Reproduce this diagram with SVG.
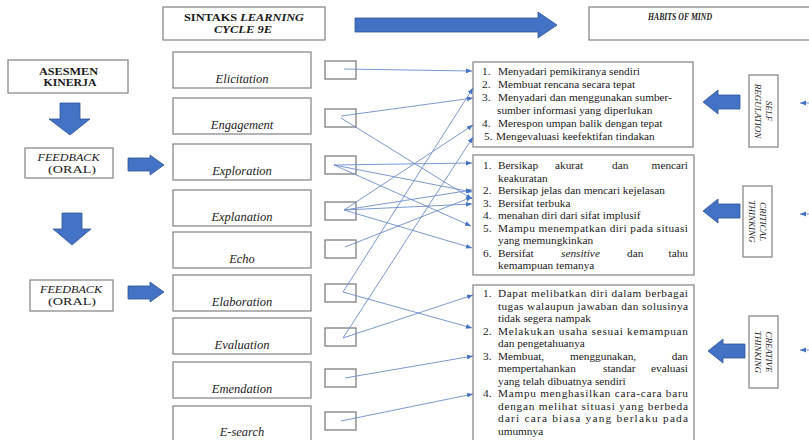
<svg xmlns="http://www.w3.org/2000/svg" width="809" height="440" viewBox="0 0 809 440">
<defs>
<style>
.box{fill:#fff;stroke:#8a8a8a;stroke-width:1.3}
.sbox{fill:#fff;stroke:#7f7f7f;stroke-width:1.3}
.big{fill:#4472C4;stroke:#2F5597;stroke-width:0.8}
.t{font-family:"Liberation Serif","Times New Roman",serif;fill:#1a1a1a}
.ph{font-family:"Liberation Serif","Times New Roman",serif;font-style:italic;font-size:12.5px;fill:#222;text-anchor:middle}
.li{font-family:"Liberation Serif","Times New Roman",serif;font-size:11.3px;fill:#1a1a1a}
.rot{font-family:"Liberation Serif","Times New Roman",serif;font-style:italic;font-size:9px;fill:#222;text-anchor:middle;dominant-baseline:central}
.con{fill:none;stroke:#6d8ccb;stroke-width:0.9;marker-end:url(#ah)}
</style>
<marker id="ah" viewBox="0 0 10 10" refX="10" refY="5" markerWidth="6" markerHeight="6" markerUnits="userSpaceOnUse" orient="auto"><path d="M0,1 L10,5 L0,9 z" fill="#4472C4"/></marker>
</defs>
<rect width="809" height="440" fill="#fff"/>

<!-- header -->
<g id="sintaks">
<rect class="box" x="163" y="7" width="162" height="33"/>
<text class="t" x="244" y="21" font-size="10.5" font-weight="bold" text-anchor="middle" textLength="120" lengthAdjust="spacingAndGlyphs">SINTAKS <tspan font-style="italic">LEARNING</tspan></text>
<text class="t" x="243" y="33" font-size="10.5" font-weight="bold" font-style="italic" text-anchor="middle" textLength="58" lengthAdjust="spacingAndGlyphs">CYCLE 9E</text>
</g>
<g id="arrow-top"><path class="big" d="M355,18 L538,18 L538,12 L557,25 L538,38 L538,32 L355,32 Z"/></g>
<g id="habits">
<rect class="box" x="589" y="7" width="240" height="33"/>
<text class="t" x="680" y="20" font-size="10" font-weight="bold" font-style="italic" text-anchor="middle" textLength="64" lengthAdjust="spacingAndGlyphs">HABITS OF MIND</text>
</g>

<!-- left column -->
<g id="asesmen">
<rect class="box" x="8" y="60" width="120" height="33"/>
<text class="t" x="68.5" y="75" font-size="10.5" font-weight="bold" text-anchor="middle" textLength="59" lengthAdjust="spacingAndGlyphs">ASESMEN</text>
<text class="t" x="70" y="86" font-size="10.5" font-weight="bold" text-anchor="middle" textLength="53" lengthAdjust="spacingAndGlyphs">KINERJA</text>
</g>
<g id="arrow-down-1"><path class="big" d="M60,103 L80,103 L80,119 L90,119 L70,135 L49,119 L60,119 Z"/></g>
<g id="feedback-1">
<rect class="box" x="25" y="148" width="88" height="30"/>
<text class="t" x="68.5" y="161" font-size="10.5" font-style="italic" text-anchor="middle" textLength="62" lengthAdjust="spacingAndGlyphs">FEEDBACK</text>
<text class="t" x="72" y="173" font-size="10.5" text-anchor="middle" textLength="48" lengthAdjust="spacingAndGlyphs">(ORAL)</text>
</g>
<g id="arrow-right-1"><path class="big" d="M128,158 L150,158 L150,155 L164,165 L150,175 L150,171 L128,171 Z"/></g>
<g id="arrow-down-2"><path class="big" d="M62,213 L82,213 L82,229 L91,229 L72,245 L53,229 L62,229 Z"/></g>
<g id="feedback-2">
<rect class="box" x="30" y="280" width="83" height="31"/>
<text class="t" x="71" y="293" font-size="10.5" font-style="italic" text-anchor="middle" textLength="62" lengthAdjust="spacingAndGlyphs">FEEDBACK</text>
<text class="t" x="72" y="305" font-size="10.5" text-anchor="middle" textLength="48" lengthAdjust="spacingAndGlyphs">(ORAL)</text>
</g>
<g id="arrow-right-2"><path class="big" d="M128,286 L150,286 L150,282 L164,292 L150,302 L150,299 L128,299 Z"/></g>

<!-- phases -->
<g id="elicitation"><rect class="box" x="173" y="52" width="138" height="36"/><text class="ph" x="242" y="83">Elicitation</text><rect class="sbox" x="325" y="61" width="31" height="18"/></g>
<g id="engagement"><rect class="box" x="173" y="98" width="138" height="36"/><text class="ph" x="242" y="129">Engagement</text><rect class="sbox" x="325" y="109" width="31" height="18"/></g>
<g id="exploration"><rect class="box" x="173" y="144" width="138" height="36"/><text class="ph" x="242" y="175">Exploration</text><rect class="sbox" x="325" y="156" width="31" height="18"/></g>
<g id="explanation"><rect class="box" x="173" y="190" width="138" height="36"/><text class="ph" x="242" y="221">Explanation</text><rect class="sbox" x="325" y="202" width="31" height="18"/></g>
<g id="echo"><rect class="box" x="173" y="232" width="138" height="36"/><text class="ph" x="242" y="263">Echo</text><rect class="sbox" x="325" y="240" width="31" height="18"/></g>
<g id="elaboration"><rect class="box" x="173" y="275" width="138" height="36"/><text class="ph" x="242" y="306">Elaboration</text><rect class="sbox" x="325" y="284" width="31" height="18"/></g>
<g id="evaluation"><rect class="box" x="173" y="318" width="138" height="36"/><text class="ph" x="242" y="349">Evaluation</text><rect class="sbox" x="325" y="328" width="31" height="18"/></g>
<g id="emendation"><rect class="box" x="173" y="362" width="138" height="36"/><text class="ph" x="242" y="393">Emendation</text><rect class="sbox" x="325" y="369" width="31" height="18"/></g>
<g id="esearch"><rect class="box" x="173" y="406" width="138" height="36"/><text class="ph" x="242" y="436">E-search</text><rect class="sbox" x="325" y="412" width="31" height="18"/></g>

<!-- right lists -->
<g id="list-self">
<rect class="box" x="473" y="62" width="220" height="85"/>
<text class="li" y="75"><tspan x="482">1.</tspan><tspan x="498">Menyadari pemikiranya sendiri</tspan></text>
<text class="li" y="88"><tspan x="482">2.</tspan><tspan x="498">Membuat rencana secara tepat</tspan></text>
<text class="li" y="101"><tspan x="482">3.</tspan><tspan x="498">Menyadari dan menggunakan sumber-</tspan></text>
<text class="li" x="497" y="114">sumber informasi yang diperlukan</text>
<text class="li" y="127"><tspan x="482">4.</tspan><tspan x="498">Merespon umpan balik dengan tepat</tspan></text>
<text class="li" y="140"><tspan x="484">5.</tspan><tspan x="496">Mengevaluasi keefektifan tindakan</tspan></text>
</g>
<g id="list-critical">
<rect class="box" x="473" y="155" width="221" height="120"/>
<text class="li" y="169"><tspan x="483">1.</tspan><tspan x="498">Bersikap</tspan><tspan x="555">akurat</tspan><tspan x="612">dan</tspan></text>
<text class="li" x="688" y="169" text-anchor="end">mencari</text>
<text class="li" x="498" y="181.5">keakuratan</text>
<text class="li" y="194"><tspan x="483">2.</tspan><tspan x="498">Bersikap jelas dan mencari kejelasan</tspan></text>
<text class="li" y="206.5"><tspan x="483">3.</tspan><tspan x="498">Bersifat terbuka</tspan></text>
<text class="li" y="219"><tspan x="483">4.</tspan><tspan x="498">menahan diri dari sifat implusif</tspan></text>
<text class="li" y="231.5"><tspan x="483">5.</tspan></text>
<text class="li" x="498" y="231.5" textLength="190" lengthAdjust="spacing">Mampu menempatkan diri pada situasi</text>
<text class="li" x="498" y="244">yang memungkinkan</text>
<text class="li" y="256.5"><tspan x="483">6.</tspan><tspan x="498">Bersifat</tspan><tspan x="561" font-style="italic">sensitive</tspan><tspan x="627">dan</tspan></text>
<text class="li" x="688" y="256.5" text-anchor="end">tahu</text>
<text class="li" x="498" y="269">kemampuan temanya</text>
</g>
<g id="list-creative">
<rect class="box" x="473" y="285" width="221" height="170"/>
<text class="li" y="297"><tspan x="483">1.</tspan></text>
<text class="li" x="498" y="297" textLength="190" lengthAdjust="spacing">Dapat melibatkan diri dalam berbagai</text>
<text class="li" x="498" y="309.5" textLength="190" lengthAdjust="spacing">tugas walaupun jawaban dan solusinya</text>
<text class="li" x="498" y="322">tidak segera nampak</text>
<text class="li" y="334.5"><tspan x="483">2.</tspan></text>
<text class="li" x="498" y="334.5" textLength="190" lengthAdjust="spacing">Melakukan usaha sesuai kemampuan</text>
<text class="li" x="498" y="347">dan pengetahuanya</text>
<text class="li" y="359.5"><tspan x="483">3.</tspan><tspan x="498">Membuat,</tspan><tspan x="570">menggunakan,</tspan></text>
<text class="li" x="688" y="359.5" text-anchor="end">dan</text>
<text class="li" y="372"><tspan x="498">mempertahankan</tspan><tspan x="603">standar</tspan></text>
<text class="li" x="688" y="372" text-anchor="end">evaluasi</text>
<text class="li" x="498" y="384.5">yang telah dibuatnya sendiri</text>
<text class="li" y="397"><tspan x="483">4.</tspan></text>
<text class="li" x="498" y="397" textLength="190" lengthAdjust="spacing">Mampu menghasilkan cara-cara baru</text>
<text class="li" x="498" y="409.5" textLength="190" lengthAdjust="spacing">dengan melihat situasi yang berbeda</text>
<text class="li" x="498" y="422" textLength="190" lengthAdjust="spacing">dari cara biasa yang berlaku pada</text>
<text class="li" x="498" y="434.5">umumnya</text>
</g>

<!-- habit labels -->
<g id="self-regulation">
<rect class="box" x="749" y="75" width="29" height="72"/>
<g transform="translate(763.5,111) rotate(90)"><text class="rot" x="0" y="-5.5">SELF</text><text class="rot" x="0" y="5.5">REGULATION</text></g>
</g>
<g id="arrow-left-1"><path class="big" d="M740,95 L718,95 L718,90 L703,102 L718,114 L718,109 L740,109 Z"/></g>
<g id="critical-thinking">
<rect class="box" x="743" y="186" width="29" height="71"/>
<g transform="translate(757.5,221.5) rotate(90)"><text class="rot" x="0" y="-5.5">CRITICAL</text><text class="rot" x="0" y="5.5">THINKING</text></g>
</g>
<g id="arrow-left-2"><path class="big" d="M740,204 L718,204 L718,199 L703,211 L718,223 L718,218 L740,218 Z"/></g>
<g id="creative-thinking">
<rect class="box" x="749" y="316" width="29" height="72"/>
<g transform="translate(763.5,352) rotate(90)"><text class="rot" x="0" y="-5.5">CREATIVE</text><text class="rot" x="0" y="5.5">THINKING</text></g>
</g>
<g id="arrow-left-3"><path class="big" d="M745,344 L723,344 L723,339 L708,351 L723,363 L723,358 L745,358 Z"/></g>

<!-- connectors -->
<g id="connectors">
<line class="con" x1="344" y1="69" x2="472" y2="71"/>
<line class="con" x1="341" y1="116" x2="473" y2="98"/>
<line class="con" x1="341" y1="118" x2="472" y2="199"/>
<line class="con" x1="334" y1="165" x2="472" y2="163"/>
<line class="con" x1="334" y1="165" x2="472" y2="192"/>
<line class="con" x1="334" y1="165" x2="471" y2="226"/>
<line class="con" x1="344" y1="210" x2="473" y2="125"/>
<line class="con" x1="344" y1="210" x2="472" y2="190"/>
<line class="con" x1="344" y1="210" x2="472" y2="204"/>
<line class="con" x1="344" y1="210" x2="472" y2="248"/>
<line class="con" x1="345" y1="247" x2="472" y2="197"/>
<line class="con" x1="343" y1="292" x2="473" y2="88"/>
<line class="con" x1="343" y1="292" x2="472" y2="328"/>
<line class="con" x1="343" y1="338" x2="473" y2="137"/>
<line class="con" x1="343" y1="338" x2="473" y2="295"/>
<line class="con" x1="345" y1="378" x2="473" y2="356"/>
<line class="con" x1="341" y1="421" x2="473" y2="394"/>
<line class="con" x1="815" y1="103" x2="800" y2="103"/>
<line class="con" x1="815" y1="214" x2="800" y2="214"/>
<line class="con" x1="815" y1="350" x2="800" y2="350"/>
</g>
</svg>
